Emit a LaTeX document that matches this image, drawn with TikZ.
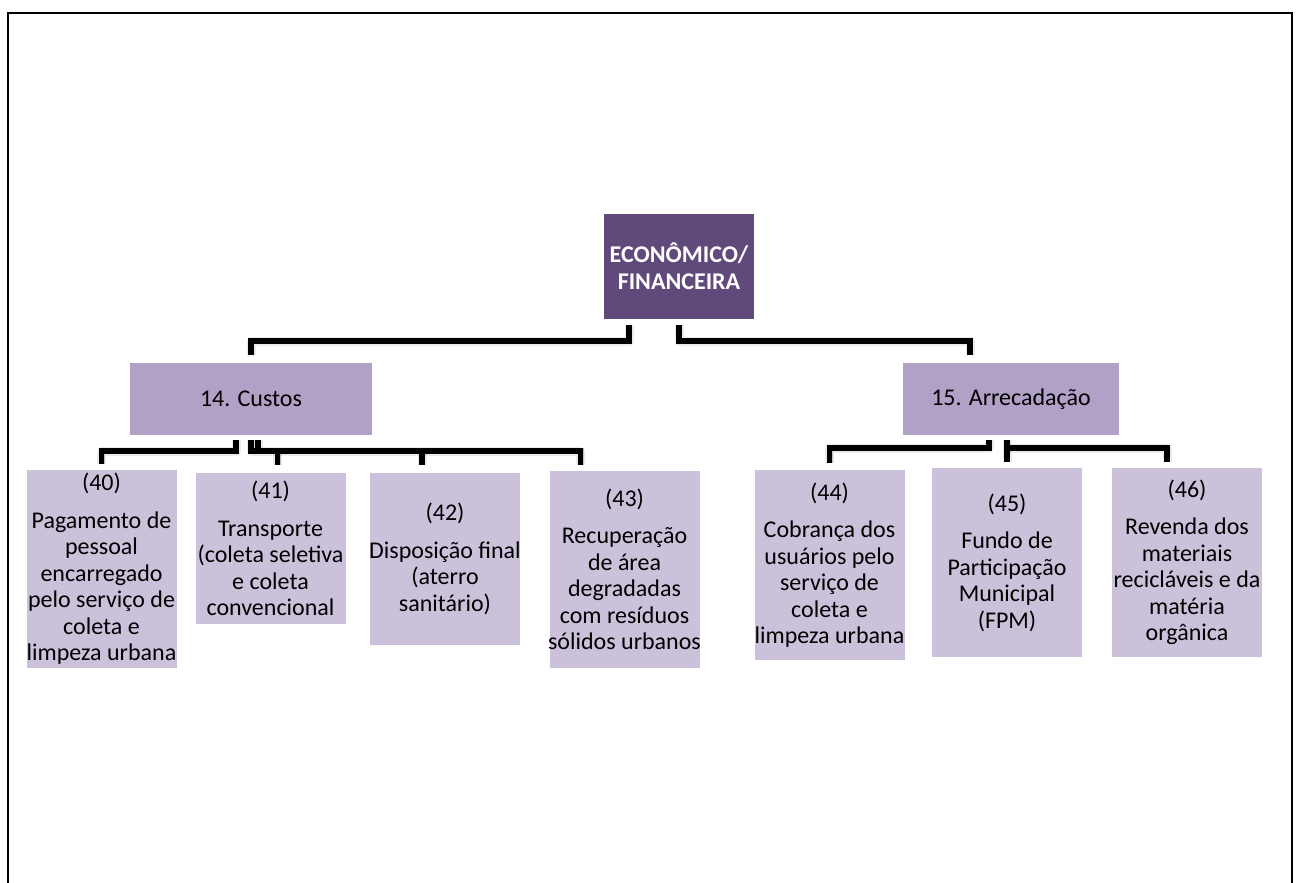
\documentclass[tikz,border=0pt]{standalone}
\usepackage{fontspec}
\setmainfont{Carlito}
\usetikzlibrary{calc}
\definecolor{toplevel}{HTML}{604A7B}
\definecolor{midlevel}{HTML}{B2A1C7}
\definecolor{leaflevel}{HTML}{CCC1DA}
\tikzset{
  box/.style={inner sep=0pt, outer sep=0pt, anchor=center},
  rootbox/.style={box, fill=toplevel, text=white, align=center,
    font=\fontsize{24}{27}\selectfont\bfseries},
  midbox/.style={box, fill=midlevel, font=\fontsize{24}{27}\selectfont},
  leafbox/.style={box, fill=leaflevel, minimum width=150pt},
  leaftext/.style={inner sep=0pt, align=center, font=\fontsize{24}{26.5}\selectfont},
  conn/.style={line width=5.5pt, draw=black, line join=miter},
  connshadowA/.style={line width=9pt, draw=black, opacity=0.08,
    xshift=1.5pt, yshift=-2.5pt, line join=round},
  connshadowB/.style={line width=6pt, draw=black, opacity=0.18,
    xshift=1.5pt, yshift=-2.5pt, line join=miter},
}
\newcommand{\connector}[1]{%
  \draw[connshadowA] #1;
  \draw[connshadowB] #1;
  \draw[conn] #1;}
\begin{document}
\begin{tikzpicture}[x=1pt,y=-1pt]
\useasboundingbox (0,0) rectangle (1298,883);

% page frame, open at the bottom
\draw[line width=2.5pt] (8,900) -- (8,13) -- (1292,13) -- (1292,900);

% top level
\node[rootbox, minimum width=150pt, minimum height=105pt] (root) at (679,266.5)
  {ECONÔMICO/\\FINANCEIRA};

% second level
\node[midbox, minimum width=242pt, minimum height=72pt] (custos) at (251,399) {14. Custos};
\node[midbox, minimum width=216pt, minimum height=72pt] (arrec) at (1011,399) {15. Arrecadação};

% leaves of 14. Custos
\node[leafbox, minimum height=198pt] (c40) at (101.5,569) {};
\node[leaftext] (t40) at (c40) {(40)\\[11pt]Pagamento de\\pessoal\\encarregado\\pelo serviço de\\coleta e\\limpeza urbana};
\node[leafbox, minimum height=151pt] (c41) at (270.5,548.5) {};
\node[leaftext] (t41) at (c41) {(41)\\[11pt]Transporte\\(coleta seletiva\\e coleta\\convencional};
\node[leafbox, minimum height=172pt] (c42) at (445,559) {};
\node[leaftext] (t42) at (c42) {(42)\\[11pt]Disposição final\\(aterro\\sanitário)};
\node[leafbox, minimum height=197pt] (c43) at (624.5,569.5) {};
\node[leaftext] (t43) at (c43) {(43)\\[11pt]Recuperação\\de área\\degradadas\\com resíduos\\sólidos urbanos};

% leaves of 15. Arrecadação
\node[leafbox, minimum height=190pt] (c44) at (829.5,565) {};
\node[leaftext] (t44) at (c44) {(44)\\[11pt]Cobrança dos\\usuários pelo\\serviço de\\coleta e\\limpeza urbana};
\node[leafbox, minimum height=189pt] (c45) at (1007,562.5) {};
\node[leaftext] (t45) at (c45) {(45)\\[11pt]Fundo de\\Participação\\Municipal\\(FPM)};
\node[leafbox, minimum height=189pt] (c46) at (1187,562.5) {};
\node[leaftext] (t46) at (c46) {(46)\\[11pt]Revenda dos\\materiais\\recicláveis e da\\matéria\\orgânica};

% brackets from the top level
\connector{($(root.south)+(-50,6)$) |- ($(custos.north)+(0,-22)$) -- ($(custos.north)+(0,-8)$)}
\connector{($(root.south)+(0,6)$) |- ($(arrec.north)+(-41,-22)$) -- ($(arrec.north)+(-41,-8)$)}

% brackets under 14. Custos
\connector{($(custos.south)+(-15,5)$) |- ($(c40.north)+(0,-19)$) -- ($(c40.north)+(0,-6)$)}
\connector{($(custos.south)+(0,5)$) |- ($(c43.north)+(-44,-20)$) -- ($(c43.north)+(-44,-6)$)}
\connector{($(custos.south)+(7,5)$) -- ($(custos.south)+(7,16)$)}
\connector{($(c41.north)+(7,-22)$) -- ($(c41.north)+(7,-8)$)}
\connector{($(c42.north)+(-23,-22)$) -- ($(c42.north)+(-23,-8)$)}

% brackets under 15. Arrecadação
\connector{($(arrec.south)+(-22,5)$) |- ($(c44.north)+(0,-22)$) -- ($(c44.north)+(0,-7)$)}
\connector{($(arrec.south)+(-4,5)$) -- ($(c45.north)+(0,-6)$)}
\connector{($(c45.north)+(0,-20)$) -| ($(c46.north)+(-20,-6)$)}
\end{tikzpicture}
\end{document}
